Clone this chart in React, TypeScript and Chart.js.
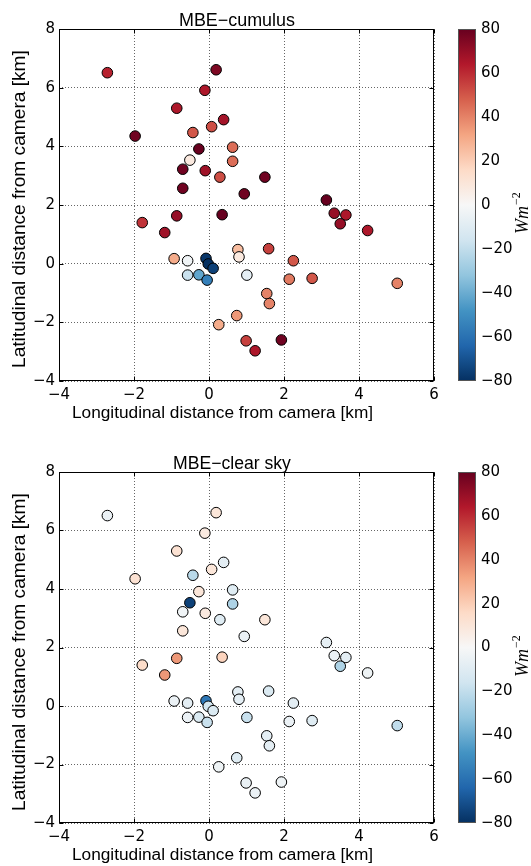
import React, { useEffect, useRef } from "react";
import { Chart, registerables } from "chart.js";
Chart.register(...registerables);

// ---- data ----
const xKm = [
  -2.71, 0.19, -0.11, -0.86, 0.39, 0.07, -0.43, -1.97, -0.27, 0.63,
  -0.51, 0.63, -0.70, -0.10, 0.29, -0.70, 0.94, 1.49, 3.13, 3.34,
  3.65, 3.50, 4.23, -1.78, -0.86, -1.18, 0.35, -0.93, -0.57, -0.08,
  -0.02, 0.11, -0.57, -0.27, -0.05, 0.77, 0.80, 1.01, 0.26, 0.74,
  0.99, 1.23, 1.93, 1.59, 2.25, 2.14, 2.75, 5.02, 1.54, 1.61,
];
const yKm = [
  6.51, 6.61, 5.91, 5.30, 4.91, 4.67, 4.47, 4.35, 3.91, 3.97,
  3.53, 3.49, 3.22, 3.17, 2.95, 2.57, 2.38, 2.95, 2.17, 1.72,
  1.66, 1.36, 1.13, 1.40, 1.63, 1.06, 1.67, 0.17, 0.10, 0.18,
  -0.01, -0.16, -0.39, -0.38, -0.56, 0.48, 0.23, -0.39, -2.08, -1.77,
  -2.63, -2.97, -2.60, 0.51, 0.10, -0.53, -0.50, -0.67, -1.02, -1.36,
];
const mbeCumulus = [
  62, 75, 65, 65, 67, 52, 50, 78, 80, 45,
  8, 45, 78, 68, 52, 78, 78, 78, 80, 70,
  65, 70, 65, 58, 70, 68, 80, 30, -3, -78,
  -80, -75, -18, -42, -55, 25, 8, -8, 30, 35,
  55, 65, 78, 55, 50, 42, 50, 40, 40, 40,
];
const mbeClearSky = [
  -5, 10, 8, 12, -8, 10, -22, 12, 10, -10,
  -75, -25, -3, 8, -10, 10, -5, 10, -7, -5,
  -8, -25, -4, 15, 35, 35, 18, -5, -8, -58,
  -15, -12, -5, -12, -18, -8, -8, -18, -4, -10,
  -6, -5, -4, -12, -8, -5, -10, -20, -8, -8,
];
const xTicks = [-4, -2, 0, 2, 4, 6];
const yTicks = [-4, -2, 0, 2, 4, 6, 8];
const cbTicks = [-80, -60, -40, -20, 0, 20, 40, 60, 80];
const panelTitles = ["MBE\u2212cumulus", "MBE\u2212clear sky"];
const xAxisLabel = "Longitudinal distance from camera [km]";
const yAxisLabel = "Latitudinal distance from camera [km]";
const cbUnit = "Wm";
const cbUnitExp = "\u22122";

const RDBU_R = [
  "#053061", "#2166ac", "#4393c3", "#92c5de", "#d1e5f0", "#f7f7f7",
  "#fddbc7", "#f4a582", "#d6604d", "#b2182b", "#67001f",
];
const VMIN = -80;
const VMAX = 80;

function hexRgb(h: string) {
  return [parseInt(h.slice(1, 3), 16), parseInt(h.slice(3, 5), 16), parseInt(h.slice(5, 7), 16)];
}
function cmap(v: number) {
  let t = (v - VMIN) / (VMAX - VMIN);
  t = Math.max(0, Math.min(1, t));
  const pos = t * (RDBU_R.length - 1);
  const i = Math.min(Math.floor(pos), RDBU_R.length - 2);
  const f = pos - i;
  const a = hexRgb(RDBU_R[i]);
  const b = hexRgb(RDBU_R[i + 1]);
  const c = a.map((x, k) => Math.round(x + (b[k] - x) * f));
  return `rgb(${c[0]},${c[1]},${c[2]})`;
}
const fmt = (v: number) => (v < 0 ? "\u2212" + Math.abs(v) : String(v));

const TICK_FONT = { family: "DejaVu Sans", size: 15 };
const LABEL_FAMILY = '"Liberation Sans", Arial, sans-serif';

function fitFont(ctx: CanvasRenderingContext2D, text: string, width: number, family: string) {
  ctx.font = `100px ${family}`;
  const w = ctx.measureText(text).width;
  const size = (100 * width) / w;
  ctx.font = `${size.toFixed(2)}px ${family}`;
}

const noPad = (s: any) => {
  s.paddingTop = 0;
  s.paddingBottom = 0;
  s.paddingLeft = 0;
  s.paddingRight = 0;
};

function makeDecor(title: string) {
  return {
    id: "decor",
    afterDraw(chart: any) {
      const { ctx, chartArea: a, scales } = chart;
      ctx.save();
      // axes frame
      ctx.strokeStyle = "#000";
      ctx.lineWidth = 1;
      const L = Math.round(a.left) + 0.5;
      const T = Math.round(a.top) + 0.5;
      const R = Math.round(a.right) - 0.5;
      const B = Math.round(a.bottom) - 0.5;
      ctx.strokeRect(L, T, R - L, B - T);
      // inward ticks
      ctx.beginPath();
      xTicks.forEach((v) => {
        const px = Math.round(scales.x.getPixelForValue(v)) + 0.5;
        ctx.moveTo(px, B); ctx.lineTo(px, B - 4);
        ctx.moveTo(px, T); ctx.lineTo(px, T + 4);
      });
      yTicks.forEach((v) => {
        const py = Math.round(scales.y.getPixelForValue(v)) + 0.5;
        ctx.moveTo(L, py); ctx.lineTo(L + 4, py);
        ctx.moveTo(R, py); ctx.lineTo(R - 4, py);
      });
      ctx.stroke();

      ctx.fillStyle = "#000";
      ctx.textBaseline = "alphabetic";
      ctx.textAlign = "left";
      // title
      const long = title.length > 12;
      fitFont(ctx, title, long ? 118 : 116, LABEL_FAMILY);
      ctx.fillText(title, long ? 173 : 179, 26);
      // x label
      fitFont(ctx, xAxisLabel, 301, LABEL_FAMILY);
      ctx.fillText(xAxisLabel, 72, a.bottom + 37);
      // y label
      ctx.save();
      ctx.translate(25, 368);
      ctx.rotate(-Math.PI / 2);
      fitFont(ctx, yAxisLabel, 318, LABEL_FAMILY);
      ctx.fillText(yAxisLabel, 0, 0);
      ctx.restore();

      // colorbar
      const cb = scales.cb;
      const top = cb.getPixelForValue(VMAX);
      const bot = cb.getPixelForValue(VMIN);
      const cx = 458;
      const cw = 18;
      const g = ctx.createLinearGradient(0, bot, 0, top);
      RDBU_R.forEach((c, i) => g.addColorStop(i / (RDBU_R.length - 1), c));
      ctx.fillStyle = g;
      ctx.fillRect(cx, top, cw, bot - top);
      ctx.strokeStyle = "#555";
      ctx.strokeRect(cx + 0.5, Math.round(top) + 0.5, cw - 1, Math.round(bot - top) - 1);

      // colorbar unit label
      ctx.save();
      ctx.translate(528, 234);
      ctx.rotate(-Math.PI / 2);
      ctx.fillStyle = "#000";
      ctx.font = 'italic 18px "Liberation Serif", serif';
      ctx.fillText(cbUnit, 0, 0);
      const w = ctx.measureText(cbUnit).width;
      ctx.font = '12px "Liberation Serif", serif';
      ctx.fillText(cbUnitExp, w + 1, -8);
      ctx.restore();

      ctx.restore();
    },
  };
}

function Panel({ values, title, top, height, areaBottom }: any) {
  const ref = useRef<HTMLCanvasElement>(null);
  useEffect(() => {
    const chart = new Chart(ref.current!, {
      type: "scatter",
      data: {
        datasets: [
          {
            data: xKm.map((x, i) => ({ x, y: yKm[i] })),
            backgroundColor: values.map(cmap),
            borderColor: "#000",
            borderWidth: 1,
            pointRadius: 5.3,
            pointHoverRadius: 5.3,
          },
        ],
      },
      options: {
        responsive: false,
        animation: false,
        events: [],
        layout: { padding: { top: 29, left: 0, right: 0, bottom: 0 } },
        plugins: { legend: { display: false }, tooltip: { enabled: false }, title: { display: false } },
        scales: {
          x: {
            type: "linear",
            min: -4,
            max: 6,
            afterBuildTicks: (s: any) => { s.ticks = xTicks.map((v) => ({ value: v })); },
            afterFit: (s: any) => { s.height = height - areaBottom; noPad(s); },
            grid: { color: "rgba(0,0,0,0.6)", lineWidth: 1, drawTicks: false },
            border: { display: false, dash: [1, 2] },
            ticks: {
              font: TICK_FONT,
              color: "#000",
              padding: 5,
              maxRotation: 0,
              autoSkip: false,
              callback: (v: any) => fmt(Number(v)),
            },
          },
          y: {
            type: "linear",
            position: "left",
            min: -4,
            max: 8,
            afterBuildTicks: (s: any) => { s.ticks = yTicks.map((v) => ({ value: v })); },
            afterFit: (s: any) => { s.width = 59; noPad(s); },
            grid: { color: "rgba(0,0,0,0.6)", lineWidth: 1, drawTicks: false },
            border: { display: false, dash: [1, 2] },
            ticks: {
              font: TICK_FONT,
              color: "#000",
              padding: 4,
              autoSkip: false,
              callback: (v: any) => fmt(Number(v)),
            },
          },
          cb: {
            type: "linear",
            position: "right",
            min: VMIN,
            max: VMAX,
            afterBuildTicks: (s: any) => { s.ticks = cbTicks.map((v) => ({ value: v })); },
            afterFit: (s: any) => { s.width = 97; noPad(s); },
            grid: { display: false, drawTicks: false },
            border: { display: false },
            ticks: {
              font: TICK_FONT,
              color: "#000",
              padding: 47,
              autoSkip: false,
              callback: (v: any) => fmt(Number(v)),
            },
          },
        },
      } as any,
      plugins: [makeDecor(title)],
    });
    return () => chart.destroy();
  }, []);
  return (
    <canvas
      ref={ref}
      width={531}
      height={height}
      style={{ position: "absolute", left: 0, top, width: 531, height, display: "block" }}
    />
  );
}

export default function App() {
  useEffect(() => {
    document.body.style.margin = "0";
  }, []);
  return (
    <div style={{ position: "fixed", left: 0, top: 0, width: 531, height: 866, background: "#fff", overflow: "hidden" }}>
      <Panel values={mbeCumulus} title={panelTitles[0]} top={0} height={443} areaBottom={381} />
      <Panel values={mbeClearSky} title={panelTitles[1]} top={443} height={423} areaBottom={380} />
    </div>
  );
}
